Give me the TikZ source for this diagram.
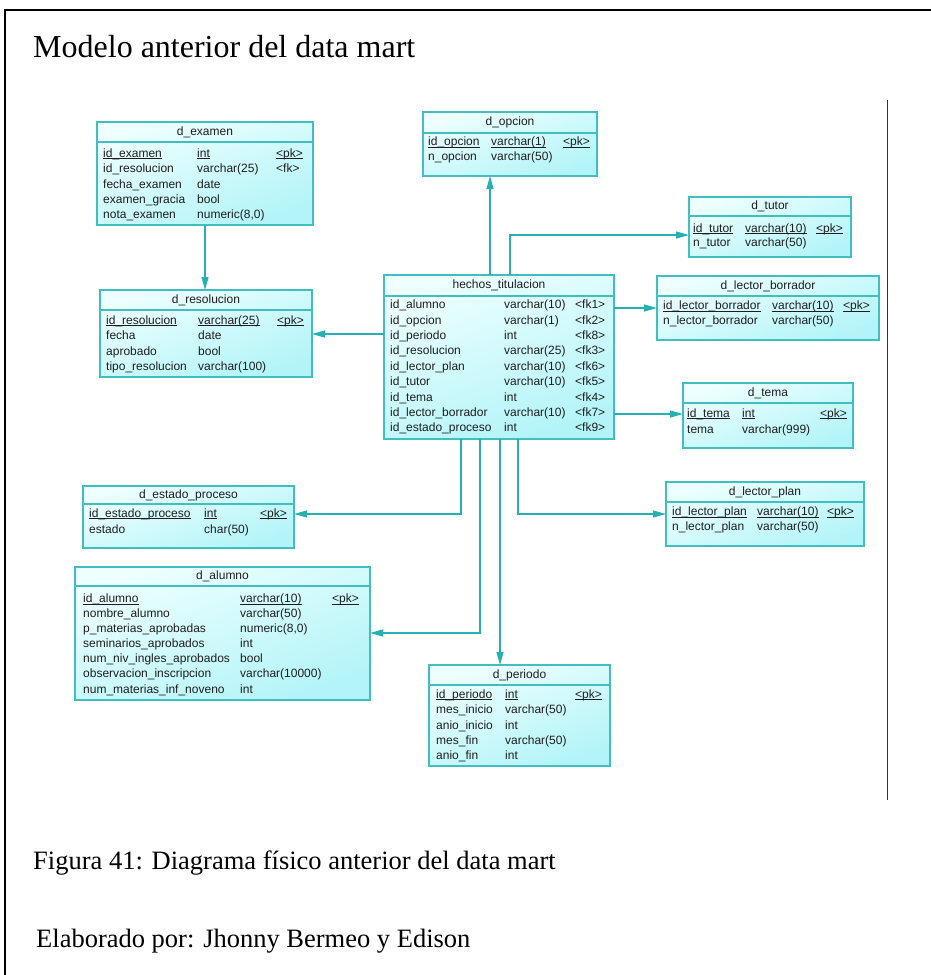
\documentclass[tikz,border=0pt]{standalone}
\usepackage{fontspec}
\setmainfont{Liberation Serif}
\newfontfamily\tabfont{Liberation Sans}
\usetikzlibrary{arrows.meta}

\definecolor{tabline}{RGB}{64,190,192}
\definecolor{linkline}{RGB}{38,176,178}
\definecolor{tabtop}{RGB}{238,255,255}
\definecolor{tabbot}{RGB}{178,244,248}
\definecolor{tabtext}{RGB}{30,30,30}

\tikzset{
  ertab/.style={draw=tabline, line width=1.2pt, top color=tabtop, bottom color=tabbot,
    shading angle=20, anchor=north west, inner sep=0pt, outer sep=0pt},
  erhdr/.style={draw=tabline, line width=1.2pt},
  erttl/.style={font=\tabfont\fontsize{12}{14}\selectfont, text=tabtext, inner sep=0pt,
    text height=9pt, text depth=3pt},
  ercell/.style={erttl, anchor=west},
  erlink/.style={draw=linkline, line width=1.2pt, -{Triangle[length=13pt,width=7pt]}},
  plain/.style={inner sep=0pt, anchor=base west},
}

% primary key text: underline set close under the baseline
\newcommand\pkey[1]{\setbox0\hbox{#1}\rlap{\rule[-1.9pt]{\wd0}{0.6pt}}\box0}

% table: name, title, x1, y1, x2, y2, y of the header rule
\newcommand\ertab[7]{%
  \node[ertab, minimum width={#5pt-#3pt}, minimum height={#6pt-#4pt}] (#1) at (#3,#4) {};
  \draw[erhdr] (#3,#7) -- (#5,#7);
  \node[erttl] (#1-title) at ({(#3+#5)/2},{(#4+#7)/2}) {#2};
}
% row: name, y, x/name, x/type, x/key
\newcommand\errow[8]{%
  \node[ercell] (#1-n) at (#3,#2) {#4};
  \node[ercell] (#1-t) at (#5,#2) {#6};
  \node[ercell] (#1-k) at (#7,#2) {#8};
}

\begin{document}
\begin{tikzpicture}[x=1pt,y=-1pt]
\useasboundingbox (0,0) rectangle (930,975);
\fill[white] (0,0) rectangle (930,975);

% page frame and side rule
\draw[line width=2pt] (5,980) -- (5,10) -- (935,10);
\draw[line width=0.8pt, black!80] (887,100) -- (887,800);

% headings
\node[plain, font=\fontsize{32}{36}\selectfont] (head) at (33,57) {Modelo anterior del data mart};
\node[plain, font=\fontsize{26.5}{30}\selectfont] (caption) at (33,869) {Figura 41: Diagrama físico anterior del data mart};
\node[plain, font=\fontsize{26.5}{30}\selectfont] (credit) at (36,947) {Elaborado por: Jhonny Bermeo y Edison};

% d_examen
\ertab{exa}{d\_examen}{97}{122}{313}{225}{142}
\errow{exa1}{154}{103}{\pkey{id\_examen}}{197}{\pkey{int}}{276}{\pkey{<pk>}}
\errow{exa2}{169.5}{103}{id\_resolucion}{197}{varchar(25)}{276}{<fk>}
\errow{exa3}{185}{103}{fecha\_examen}{197}{date}{276}{}
\errow{exa4}{200.3}{103}{examen\_gracia}{197}{bool}{276}{}
\errow{exa5}{215.7}{103}{nota\_examen}{197}{numeric(8,0)}{276}{}

% d_resolucion
\ertab{res}{d\_resolucion}{100}{290}{312}{377}{310}
\errow{res1}{321}{106}{\pkey{id\_resolucion}}{198}{\pkey{varchar(25)}}{277}{\pkey{<pk>}}
\errow{res2}{336.5}{106}{fecha}{198}{date}{277}{}
\errow{res3}{352}{106}{aprobado}{198}{bool}{277}{}
\errow{res4}{367}{106}{tipo\_resolucion}{198}{varchar(100)}{277}{}

% d_opcion
\ertab{opc}{d\_opcion}{423}{112}{597}{176}{133}
\errow{opc1}{142.3}{428}{\pkey{id\_opcion}}{491}{\pkey{varchar(1)}}{563}{\pkey{<pk>}}
\errow{opc2}{157.3}{428}{n\_opcion}{491}{varchar(50)}{563}{}

% hechos_titulacion
\ertab{hec}{hechos\_titulacion}{384}{275}{614}{439}{296}
\errow{hec1}{305.7}{390}{id\_alumno}{504}{varchar(10)}{575}{<fk1>}
\errow{hec2}{321.1}{390}{id\_opcion}{504}{varchar(1)}{575}{<fk2>}
\errow{hec3}{336.5}{390}{id\_periodo}{504}{int}{575}{<fk8>}
\errow{hec4}{351.9}{390}{id\_resolucion}{504}{varchar(25)}{575}{<fk3>}
\errow{hec5}{367.3}{390}{id\_lector\_plan}{504}{varchar(10)}{575}{<fk6>}
\errow{hec6}{382.7}{390}{id\_tutor}{504}{varchar(10)}{575}{<fk5>}
\errow{hec7}{398.1}{390}{id\_tema}{504}{int}{575}{<fk4>}
\errow{hec8}{413.5}{390}{id\_lector\_borrador}{504}{varchar(10)}{575}{<fk7>}
\errow{hec9}{428.9}{390}{id\_estado\_proceso}{504}{int}{575}{<fk9>}

% d_tutor
\ertab{tut}{d\_tutor}{689}{197}{851}{257}{216}
\errow{tut1}{229}{693}{\pkey{id\_tutor}}{745}{\pkey{varchar(10)}}{816}{\pkey{<pk>}}
\errow{tut2}{243.5}{693}{n\_tutor}{745}{varchar(50)}{816}{}

% d_lector_borrador
\ertab{lbo}{d\_lector\_borrador}{657}{276}{879}{340}{296}
\errow{lbo1}{306.7}{663}{\pkey{id\_lector\_borrador}}{772}{\pkey{varchar(10)}}{843}{\pkey{<pk>}}
\errow{lbo2}{321.7}{663}{n\_lector\_borrador}{772}{varchar(50)}{843}{}

% d_tema
\ertab{tem}{d\_tema}{683}{383}{853}{448}{403}
\errow{tem1}{414}{687}{\pkey{id\_tema}}{742}{\pkey{int}}{820}{\pkey{<pk>}}
\errow{tem2}{430}{687}{tema}{742}{varchar(999)}{820}{}

% d_lector_plan
\ertab{lpl}{d\_lector\_plan}{666}{482}{864}{546}{502}
\errow{lpl1}{512.3}{672}{\pkey{id\_lector\_plan}}{757}{\pkey{varchar(10)}}{827}{\pkey{<pk>}}
\errow{lpl2}{527.3}{672}{n\_lector\_plan}{757}{varchar(50)}{827}{}

% d_estado_proceso
\ertab{est}{d\_estado\_proceso}{83}{486}{294}{548}{504}
\errow{est1}{514}{89}{\pkey{id\_estado\_proceso}}{204}{\pkey{int}}{260}{\pkey{<pk>}}
\errow{est2}{530}{89}{estado}{204}{char(50)}{260}{}

% d_alumno
\ertab{alu}{d\_alumno}{75}{567}{370}{700}{586}
\errow{alu1}{599.3}{83}{\pkey{id\_alumno}}{240}{\pkey{varchar(10)}}{332}{\pkey{<pk>}}
\errow{alu2}{614.4}{83}{nombre\_alumno}{240}{varchar(50)}{332}{}
\errow{alu3}{629.5}{83}{p\_materias\_aprobadas}{240}{numeric(8,0)}{332}{}
\errow{alu4}{644.6}{83}{seminarios\_aprobados}{240}{int}{332}{}
\errow{alu5}{659.8}{83}{num\_niv\_ingles\_aprobados}{240}{bool}{332}{}
\errow{alu6}{674.9}{83}{observacion\_inscripcion}{240}{varchar(10000)}{332}{}
\errow{alu7}{690}{83}{num\_materias\_inf\_noveno}{240}{int}{332}{}

% d_periodo
\ertab{per}{d\_periodo}{429}{665}{610}{766}{685}
\errow{per1}{695}{436}{\pkey{id\_periodo}}{505}{\pkey{int}}{575}{\pkey{<pk>}}
\errow{per2}{710.5}{436}{mes\_inicio}{505}{varchar(50)}{575}{}
\errow{per3}{726}{436}{anio\_inicio}{505}{int}{575}{}
\errow{per4}{741.2}{436}{mes\_fin}{505}{varchar(50)}{575}{}
\errow{per5}{756.5}{436}{anio\_fin}{505}{int}{575}{}

% references
\draw[erlink] (exa.south -| 205,0) -- (res.north -| 205,0);
\draw[erlink] (hec.west |- 0,334) -- (res.east |- 0,334);
\draw[erlink] (hec.north -| 490,0) -- (opc.south -| 490,0);
\draw[erlink] (hec.north -| 510,0) |- (tut.west |- 0,235);
\draw[erlink] (hec.east |- 0,308) -- (lbo.west |- 0,308);
\draw[erlink] (hec.east |- 0,414) -- (tem.west |- 0,414);
\draw[erlink] (hec.south -| 518,0) |- (lpl.west |- 0,514);
\draw[erlink] (hec.south -| 461,0) |- (est.east |- 0,514);
\draw[erlink] (hec.south -| 480,0) |- (alu.east |- 0,633);
\draw[erlink] (hec.south -| 500,0) -- (per.north -| 500,0);
\end{tikzpicture}
\end{document}
